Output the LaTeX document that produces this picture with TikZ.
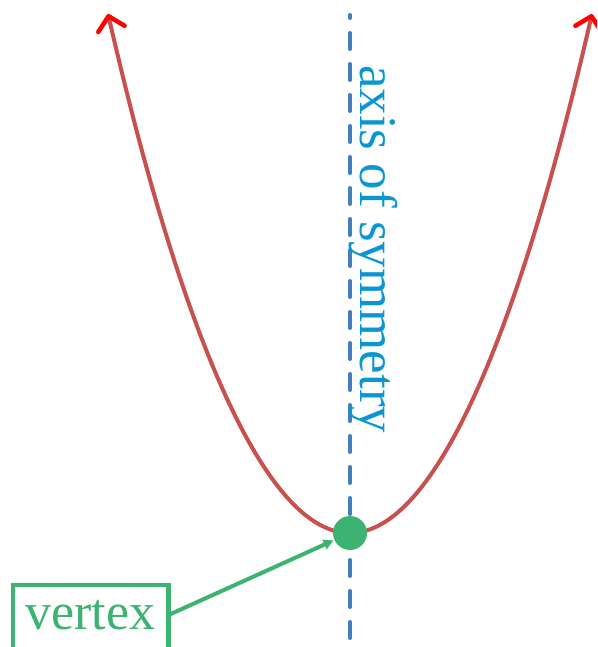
\documentclass[tikz,border=0pt]{standalone}
\usepackage{fontspec}
\setmainfont{Liberation Serif}
\usetikzlibrary{arrows.meta,calc}
\definecolor{curvered}{RGB}{200,80,77}
\definecolor{tipred}{RGB}{255,0,0}
\definecolor{axisblue}{RGB}{68,125,192}
\definecolor{labelblue}{RGB}{10,150,210}
\definecolor{vgreen}{RGB}{60,179,113}
\tikzset{
  redtip/.tip={Straight Barb[length=13pt,width=27pt,line width=4.5pt,round,color=tipred]},
  curve/.style={draw=curvered,line width=4pt,redtip-redtip},
  axisline/.style={draw=axisblue,line width=4pt,line cap=round,dash pattern=on 16pt off 15pt},
  vdot/.style={circle,fill=vgreen,minimum size=34pt,inner sep=0pt,outer sep=0pt},
  axislabel/.style={text=labelblue,font=\fontsize{53pt}{60pt}\selectfont,rotate=-90,anchor=base west,inner sep=0pt},
  vboxstyle/.style={draw=vgreen,line width=4.5pt,minimum width=155.5pt,minimum height=80pt,anchor=north west,inner sep=0pt,outer sep=0pt},
  vtextstyle/.style={text=vgreen,font=\fontsize{52pt}{60pt}\selectfont,anchor=base west,inner sep=0pt},
  varrow/.style={draw=vgreen,line width=4pt,-{Triangle[length=10pt,width=10pt]},shorten >=1pt}
}
\begin{document}
\begin{tikzpicture}[x=1pt,y=-1pt]
\useasboundingbox (0,0) rectangle (597,647);
\clip (0,0) rectangle (597,647);
% parabola
\coordinate (ltop) at (108,14);
\coordinate (vtx) at (350,533);
\coordinate (rtop) at (592,14);
\draw[curve] (ltop) parabola bend (vtx) (rtop);
% axis of symmetry
\coordinate (axbot) at (350,638);
\coordinate (axtop) at (350,15);
\draw[axisline] (axbot) -- (axtop);
\node[axislabel] (axlabel) at (360,65) {axis of symmetry};
% vertex point
\node[vdot] (dot) at (vtx) {};
% vertex label box
\node[vboxstyle] (vbox) at (13,585) {};
\node[vtextstyle] (vtext) at (25,629) {vertex};
\coordinate (vstart) at ($(vbox.north east)+(0,30)$);
\draw[varrow] (vstart) -- (dot);
\end{tikzpicture}
\end{document}
